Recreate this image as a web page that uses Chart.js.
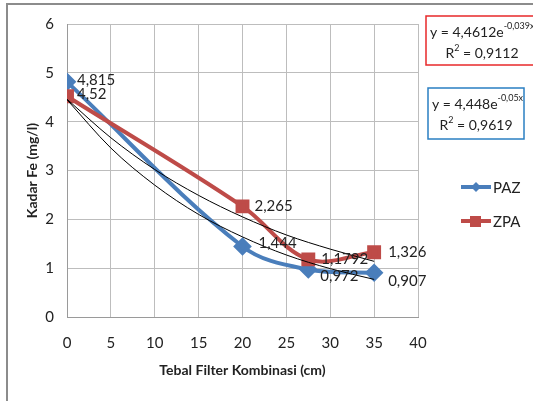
<!DOCTYPE html>
<html>
<head>
<meta charset="utf-8">
<script src="https://cdn.jsdelivr.net/npm/chart.js@4.4.1/dist/chart.umd.min.js"></script>
<style>
  html, body { margin: 0; padding: 0; background: #fff; }
  #wrap { width: 533px; height: 401px; position: relative; }
</style>
</head>
<body>
<div id="wrap"><canvas id="myChart" width="533" height="401"></canvas></div>
<script>
// tebal filter (cm)
const xPoints = [0, 20, 27.5, 35];
const pazValues = [4.815, 1.444, 0.972, 0.907];
const zpaValues = [4.52, 2.265, 1.1792, 1.326];
const pazLabels = ['4,815', '1,444', '0,972', '0,907'];
const zpaLabels = ['4,52', '2,265', '1,1792', '1,326'];

// trendlines
const trendX = [0, 5, 10, 15, 20, 25, 30, 35];
const pazTrend = [4.45, 3.46, 2.70, 2.10, 1.64, 1.27, 0.99, 0.77];
const zpaTrend = [4.46, 3.67, 3.02, 2.49, 2.05, 1.68, 1.39, 1.14];

const xTicks = [0, 5, 10, 15, 20, 25, 30, 35, 40];
const yTicks = [0, 1, 2, 3, 4, 5, 6];

const blue = '#4a7ebb';
const red = '#be4b48';
const font = 'Lato, "Open Sans", sans-serif';

const toXY = (xs, ys) => xs.map((x, i) => ({ x: x, y: ys[i] }));

const extras = {
  id: 'extras',
  afterDatasetsDraw(chart) {
    const ctx = chart.ctx;
    ctx.save();
    ctx.font = '15px ' + font;
    ctx.fillStyle = '#222';
    ctx.textBaseline = 'middle';
    ctx.textAlign = 'left';
    const offs = {
      2: [[10, -2], [12, 0], [13, 0], [14, 0]],
      3: [[10, -2], [16, -3], [12, 7], [14, 8]]
    };
    const lbls = { 2: zpaLabels, 3: pazLabels };
    [2, 3].forEach((di) => {
      const meta = chart.getDatasetMeta(di);
      meta.data.forEach((pt, i) => {
        ctx.fillText(lbls[di][i], pt.x + offs[di][i][0], pt.y + offs[di][i][1]);
      });
    });
    ctx.restore();
  },
  afterDraw(chart) {
    const ctx = chart.ctx;
    ctx.save();
    // frame
    ctx.strokeStyle = '#8c8c8c';
    ctx.lineWidth = 2;
    ctx.beginPath();
    ctx.moveTo(7, 401);
    ctx.lineTo(7, 4);
    ctx.lineTo(533, 4);
    ctx.stroke();

    // equation boxes
    const eqBox = (x, y, w, h, col, coef, expo, r2) => {
      ctx.fillStyle = '#fff';
      ctx.fillRect(x, y, w, h);
      ctx.strokeStyle = col;
      ctx.lineWidth = 1.5;
      ctx.strokeRect(x, y, w, h);
      ctx.fillStyle = '#222';
      ctx.textBaseline = 'alphabetic';
      ctx.textAlign = 'left';
      ctx.font = '14px ' + font;
      const t1 = 'y = ' + coef + 'e';
      const w1 = ctx.measureText(t1).width;
      let sx = x + 4;
      ctx.fillText(t1, sx, y + 21);
      ctx.font = '9px ' + font;
      ctx.fillText(expo, sx + w1, y + 13);
      ctx.font = '14px ' + font;
      const r1 = 'R';
      const r3 = ' = ' + r2;
      const wr1 = ctx.measureText(r1).width;
      const wr3 = ctx.measureText(r3).width;
      ctx.font = '9px ' + font;
      const wr2 = ctx.measureText('2').width;
      sx = x + w / 2 - (wr1 + wr2 + wr3) / 2;
      ctx.font = '14px ' + font;
      ctx.fillText(r1, sx, y + 42);
      ctx.fillText(r3, sx + wr1 + wr2, y + 42);
      ctx.font = '9px ' + font;
      ctx.fillText('2', sx + wr1, y + 35);
    };
    eqBox(426, 16, 112, 49, '#e8282a', '4,4612', '-0,039x', '0,9112');
    eqBox(428, 88, 96, 51, '#2a7fc2', '4,448', '-0,05x', '0,9619');

    // legend
    const legend = [['PAZ', blue, 'rectRot', 187], ['ZPA', red, 'rect', 221]];
    legend.forEach(([name, col, shape, y]) => {
      ctx.strokeStyle = col;
      ctx.lineWidth = 4;
      ctx.beginPath();
      ctx.moveTo(461, y);
      ctx.lineTo(491, y);
      ctx.stroke();
      ctx.fillStyle = col;
      if (shape === 'rect') {
        ctx.fillRect(470, y - 5, 11, 11);
      } else {
        ctx.beginPath();
        ctx.moveTo(476, y - 5);
        ctx.lineTo(481, y);
        ctx.lineTo(476, y + 5);
        ctx.lineTo(471, y);
        ctx.closePath();
        ctx.fill();
      }
      ctx.fillStyle = '#222';
      ctx.font = '15px ' + font;
      ctx.textBaseline = 'middle';
      ctx.fillText(name, 493, y + 1);
    });
    ctx.restore();
  }
};

const myChart = new Chart(document.getElementById('myChart'), {
  type: 'line',
  data: {
    datasets: [
      {
        label: 'Trend PAZ',
        data: toXY(trendX, pazTrend),
        borderColor: '#000',
        borderWidth: 1,
        pointRadius: 0,
        cubicInterpolationMode: 'monotone',
        fill: false
      },
      {
        label: 'Trend ZPA',
        data: toXY(trendX, zpaTrend),
        borderColor: '#000',
        borderWidth: 1,
        pointRadius: 0,
        cubicInterpolationMode: 'monotone',
        fill: false
      },
      {
        label: 'ZPA',
        data: toXY(xPoints, zpaValues),
        borderColor: red,
        backgroundColor: red,
        borderWidth: 4,
        pointStyle: 'rect',
        pointRadius: 7,
        tension: 0.35,
        fill: false
      },
      {
        label: 'PAZ',
        data: toXY(xPoints, pazValues),
        borderColor: blue,
        backgroundColor: blue,
        borderWidth: 4,
        pointStyle: 'rectRot',
        pointRadius: 6.5,
        tension: 0.35,
        fill: false
      }
    ]
  },
  plugins: [extras],
  options: {
    responsive: false,
    animation: false,
    layout: { padding: { left: 24, right: 115, top: 24, bottom: 18 } },
    plugins: {
      legend: { display: false },
      tooltip: { enabled: false }
    },
    scales: {
      x: {
        type: 'linear',
        min: 0,
        max: 40,
        afterBuildTicks: (s) => { s.ticks = xTicks.map((v) => ({ value: v })); },
        ticks: { color: '#222', font: { family: font, size: 15 }, padding: 17 },
        grid: { color: '#bdbdbd', tickLength: 0 },
        border: { color: '#9a9a9a' },
        title: {
          display: true,
          text: 'Tebal Filter Kombinasi (cm)',
          color: '#222',
          font: { family: font, size: 14, weight: 'bold' },
          padding: { top: 8 }
        },
        afterFit: (s) => { s.height = 66; }
      },
      y: {
        min: 0,
        max: 6,
        afterBuildTicks: (s) => { s.ticks = yTicks.map((v) => ({ value: v })); },
        ticks: { color: '#222', font: { family: font, size: 15 }, padding: 13 },
        grid: { color: '#bdbdbd', tickLength: 0 },
        border: { color: '#9a9a9a' },
        title: {
          display: true,
          text: 'Kadar Fe (mg/l)',
          color: '#222',
          font: { family: font, size: 14, weight: 'bold' },
          padding: 0
        },
        afterFit: (s) => { s.width = 43; }
      }
    }
  }
});
</script>
</body>
</html>
